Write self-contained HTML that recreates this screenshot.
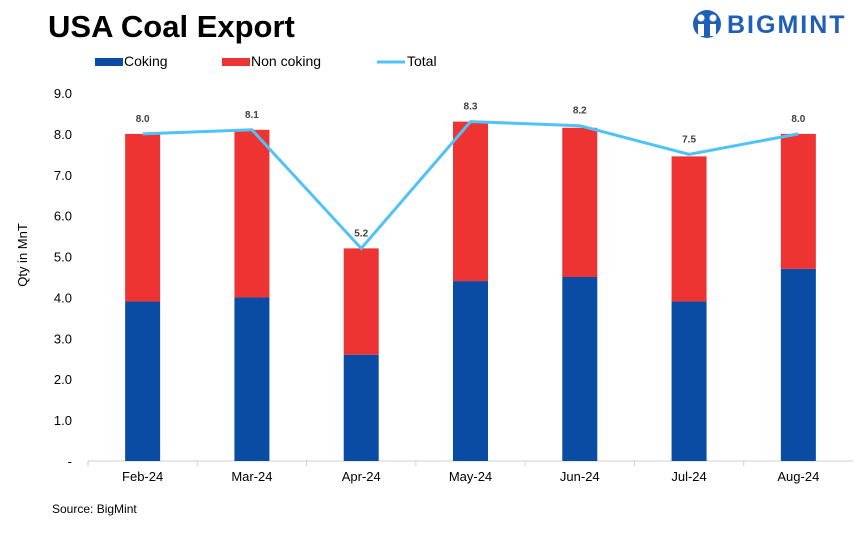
<!DOCTYPE html>
<html><head><meta charset="utf-8"><style>
body{margin:0;background:#fff;width:865px;height:531px;overflow:hidden;font-family:"Liberation Sans",sans-serif}
</style></head><body>
<svg id="c" width="865" height="531" xmlns="http://www.w3.org/2000/svg">
<text x="48" y="37" font-size="31" font-weight="bold" fill="#000">USA Coal Export</text>
<g>
<circle cx="707" cy="24" r="14" fill="#1f5fb8"/>
<circle cx="701" cy="18" r="3.5" fill="#fff"/><circle cx="713" cy="18" r="3.5" fill="#fff"/>
<path d="M698 24 L704 24 L704 36 L698 36Z M710 24 L716 24 L716 36 L710 36Z" fill="#fff"/>
<text x="727" y="33" font-size="25" font-weight="bold" fill="#1f5fb8" letter-spacing="2">BIGMINT</text>
</g>
<g>
<rect x="95" y="58" width="28" height="8" fill="#0a4ba3"/>
<text x="124" y="66" font-size="14">Coking</text>
<rect x="222" y="58" width="28" height="8" fill="#ee3333"/>
<text x="251" y="66" font-size="14">Non coking</text>
<line x1="377" y1="62" x2="405" y2="62" stroke="#4fc3f7" stroke-width="3"/>
<text x="407" y="66" font-size="14">Total</text>
</g>
<text transform="translate(27,255) rotate(-90)" font-size="13" text-anchor="middle">Qty in MnT</text>
<text x="52" y="513" font-size="12">Source: BigMint</text>
</svg>
<script>
const categories=["Feb-24","Mar-24","Apr-24","May-24","Jun-24","Jul-24","Aug-24"];
const coking=[3.9,4.0,2.6,4.4,4.5,3.9,4.7];
const nonCoking=[4.1,4.1,2.6,3.9,3.65,3.55,3.3];
const total=[8.0,8.1,5.2,8.3,8.2,7.5,8.0];
const totalLabels=["8.0","8.1","5.2","8.3","8.2","7.5","8.0"];
const yTicks=[0,1,2,3,4,5,6,7,8,9];
const svg=document.getElementById('c');
const NS="http://www.w3.org/2000/svg";
const x0=88,x1=853,y0=461,yTop=93,yMax=9;
const bw=(x1-x0)/categories.length;
const xc=i=>x0+bw*(i+0.5);
const y=v=>y0-(v/yMax)*(y0-yTop);
function mk(t,a){const e=document.createElementNS(NS,t);for(const k in a)e.setAttribute(k,a[k]);svg.appendChild(e);return e;}
yTicks.forEach(v=>{const t=mk('text',{x:72,y:y(v)+5,'font-size':13,'text-anchor':'end'});t.textContent=v===0?'-':v.toFixed(1);

});
const ax=mk('line',{x1:x0,y1:y0,x2:x1,y2:y0,stroke:'#d0d0d0'});


categories.forEach((c,i)=>{
const tk=mk('line',{x1:x0+bw*i,y1:y0,x2:x0+bw*i,y2:y0+5,stroke:'#d0d0d0'});


const w=35,bx=xc(i)-w/2;
const b1=mk('rect',{x:bx,y:y(coking[i]),width:w,height:y0-y(coking[i]),fill:'#0a4ba3'});


const top=coking[i]+nonCoking[i];
const b2=mk('rect',{x:bx,y:y(top),width:w,height:y(coking[i])-y(top),fill:'#ee3333'});


const t=mk('text',{x:xc(i),y:y0+20,'font-size':13,'text-anchor':'middle'});t.textContent=c;


});
const ln=mk('polyline',{points:total.map((v,i)=>xc(i)+','+y(v)).join(' '),fill:'none',stroke:'#4fc3f7','stroke-width':3});


total.forEach((v,i)=>{const t=mk('text',{x:xc(i),y:y(v)-12,'font-size':10,'font-weight':'bold','text-anchor':'middle',fill:'#404040'});t.textContent=totalLabels[i];

});
</script>
</body></html>
